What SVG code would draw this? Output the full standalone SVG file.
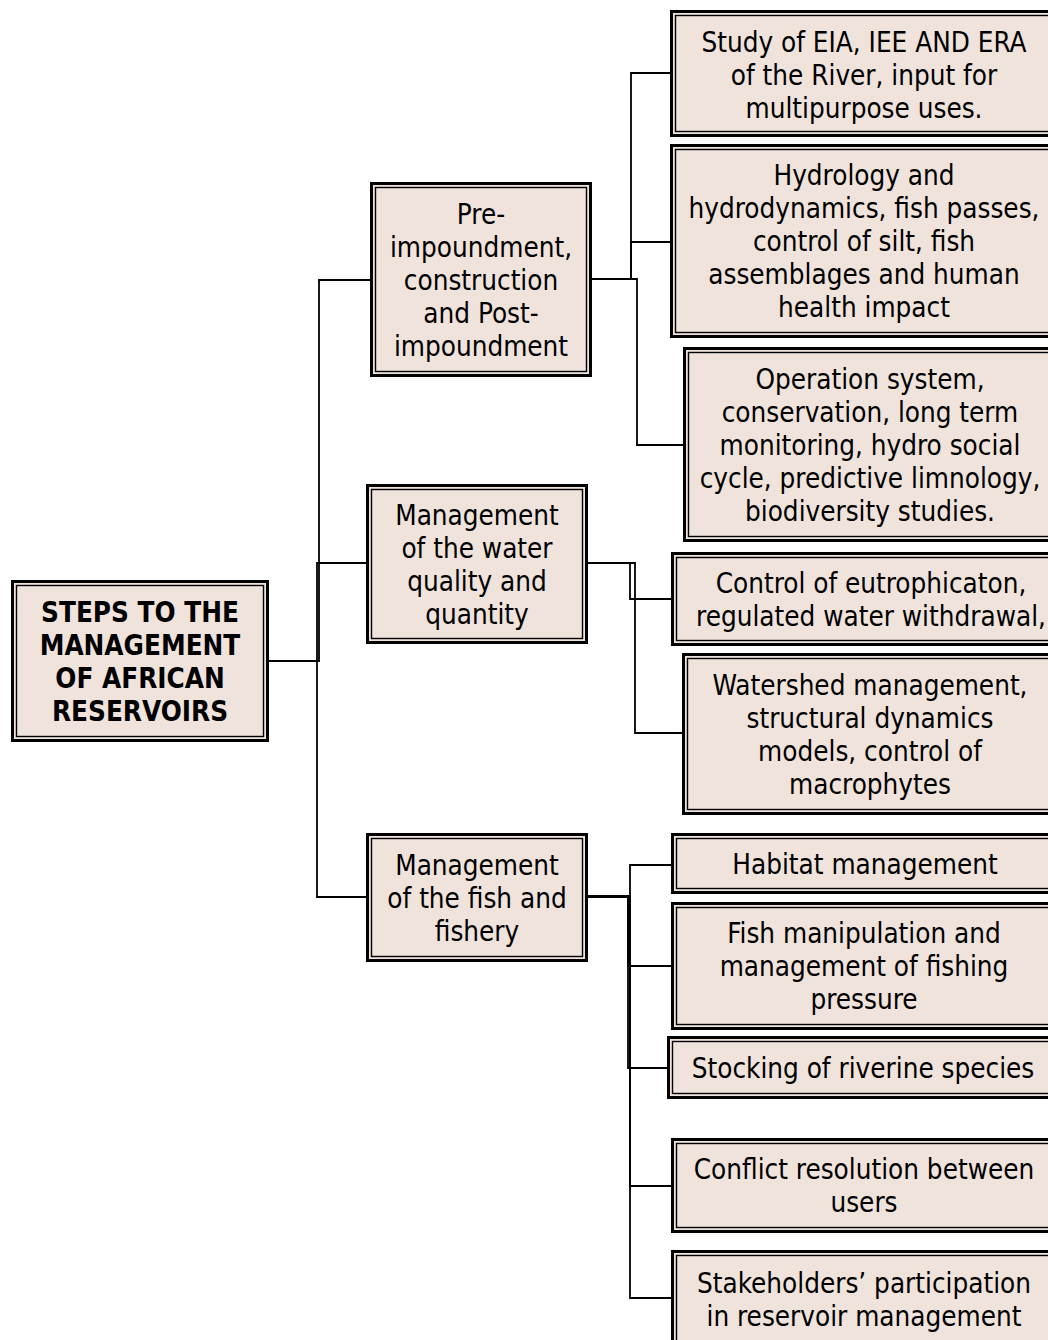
<svg xmlns="http://www.w3.org/2000/svg" width="1048" height="1340" viewBox="0 0 1048 1340">
<style>
.o{fill:#EFE3DB;stroke:#000;stroke-width:3}
.i{fill:none;stroke:#000;stroke-width:1.4}
text{font-family:"DejaVu Sans Condensed","DejaVu Sans",sans-serif;font-stretch:condensed;font-size:27.6px;fill:#000;text-anchor:middle}
.b{font-weight:bold}
.c path{fill:none;stroke:#000;stroke-width:1.8}
</style>
<rect width="1048" height="1340" fill="#fff"/>
<g class="c" id="connectors">
<path d="M269,661H319V280H370"/>
<path d="M269,661H317V563H366"/>
<path d="M269,661H317V897H366"/>
<path d="M592,279H631V73H671"/>
<path d="M592,279H631V242H671"/>
<path d="M592,279H637V445H683"/>
<path d="M588,563H630V599H671"/>
<path d="M588,563H635V733H682"/>
<path d="M588,896H630V865H671"/>
<path d="M588,897H628V966H671"/>
<path d="M588,897H628V1068H667"/>
<path d="M588,897H630V1186H671"/>
<path d="M588,897H630V1298H671"/>
</g>
<g id="root">
<rect class="o" x="12.5" y="581.5" width="255" height="159"/>
<rect class="i" x="16.5" y="585.5" width="247" height="151"/>
<text class="b" x="140" y="622">STEPS TO THE</text>
<text class="b" x="140" y="655">MANAGEMENT</text>
<text class="b" x="140" y="688">OF AFRICAN</text>
<text class="b" x="140" y="721">RESERVOIRS</text>
</g>
<g id="pre">
<rect class="o" x="371.5" y="183.5" width="219" height="192"/>
<rect class="i" x="375.5" y="187.5" width="211" height="184"/>
<text x="481" y="224">Pre-</text>
<text x="481" y="257">impoundment,</text>
<text x="481" y="290">construction</text>
<text x="481" y="323">and Post-</text>
<text x="481" y="356">impoundment</text>
</g>
<g id="water">
<rect class="o" x="367.5" y="485.5" width="219" height="157"/>
<rect class="i" x="371.5" y="489.5" width="211" height="149"/>
<text x="477" y="524.5">Management</text>
<text x="477" y="557.5">of the water</text>
<text x="477" y="590.5">quality and</text>
<text x="477" y="623.5">quantity</text>
</g>
<g id="fish">
<rect class="o" x="367.5" y="834.5" width="219" height="126"/>
<rect class="i" x="371.5" y="838.5" width="211" height="118"/>
<text x="477" y="874.5">Management</text>
<text x="477" y="907.5">of the fish and</text>
<text x="477" y="940.5">fishery</text>
</g>
<g id="eia">
<rect class="o" x="671.5" y="11.5" width="400" height="124"/>
<rect class="i" x="675.5" y="15.5" width="392" height="116"/>
<text x="864" y="52">Study of EIA, IEE AND ERA</text>
<text x="864" y="85">of the River, input for</text>
<text x="864" y="118">multipurpose uses.</text>
</g>
<g id="hydro">
<rect class="o" x="671.5" y="145.5" width="400" height="191"/>
<rect class="i" x="675.5" y="149.5" width="392" height="183"/>
<text x="864" y="185">Hydrology and</text>
<text x="864" y="218">hydrodynamics, fish passes,</text>
<text x="864" y="251">control of silt, fish</text>
<text x="864" y="284">assemblages and human</text>
<text x="864" y="317">health impact</text>
</g>
<g id="operation">
<rect class="o" x="684.5" y="348.5" width="400" height="192"/>
<rect class="i" x="688.5" y="352.5" width="392" height="184"/>
<text x="870" y="388.5">Operation system,</text>
<text x="870" y="421.5">conservation, long term</text>
<text x="870" y="454.5">monitoring, hydro social</text>
<text x="870" y="487.5">cycle, predictive limnology,</text>
<text x="870" y="520.5">biodiversity studies.</text>
</g>
<g id="eutro">
<rect class="o" x="672.5" y="553.5" width="400" height="91"/>
<rect class="i" x="676.5" y="557.5" width="392" height="83"/>
<text x="871" y="592.5">Control of eutrophicaton,</text>
<text x="871" y="625.5">regulated water withdrawal,</text>
</g>
<g id="watershed">
<rect class="o" x="683.5" y="654.5" width="400" height="159"/>
<rect class="i" x="687.5" y="658.5" width="392" height="151"/>
<text x="870" y="694.5">Watershed management,</text>
<text x="870" y="727.5">structural dynamics</text>
<text x="870" y="760.5">models, control of</text>
<text x="870" y="793.5">macrophytes</text>
</g>
<g id="habitat">
<rect class="o" x="672.5" y="834.5" width="400" height="58"/>
<rect class="i" x="676.5" y="838.5" width="392" height="50"/>
<text x="865" y="874">Habitat management</text>
</g>
<g id="fishmanip">
<rect class="o" x="672.5" y="903.5" width="400" height="125"/>
<rect class="i" x="676.5" y="907.5" width="392" height="117"/>
<text x="864" y="943">Fish manipulation and</text>
<text x="864" y="976">management of fishing</text>
<text x="864" y="1009">pressure</text>
</g>
<g id="stocking">
<rect class="o" x="668.5" y="1037.5" width="400" height="60"/>
<rect class="i" x="672.5" y="1041.5" width="392" height="52"/>
<text x="863" y="1078">Stocking of riverine species</text>
</g>
<g id="conflict">
<rect class="o" x="672.5" y="1139.5" width="400" height="92"/>
<rect class="i" x="676.5" y="1143.5" width="392" height="84"/>
<text x="864" y="1179">Conflict resolution between</text>
<text x="864" y="1212">users</text>
</g>
<g id="stakeholders">
<rect class="o" x="672.5" y="1251.5" width="400" height="120"/>
<rect class="i" x="676.5" y="1255.5" width="392" height="112"/>
<text x="864" y="1293">Stakeholders’ participation</text>
<text x="864" y="1326">in reservoir management</text>
</g>
</svg>
